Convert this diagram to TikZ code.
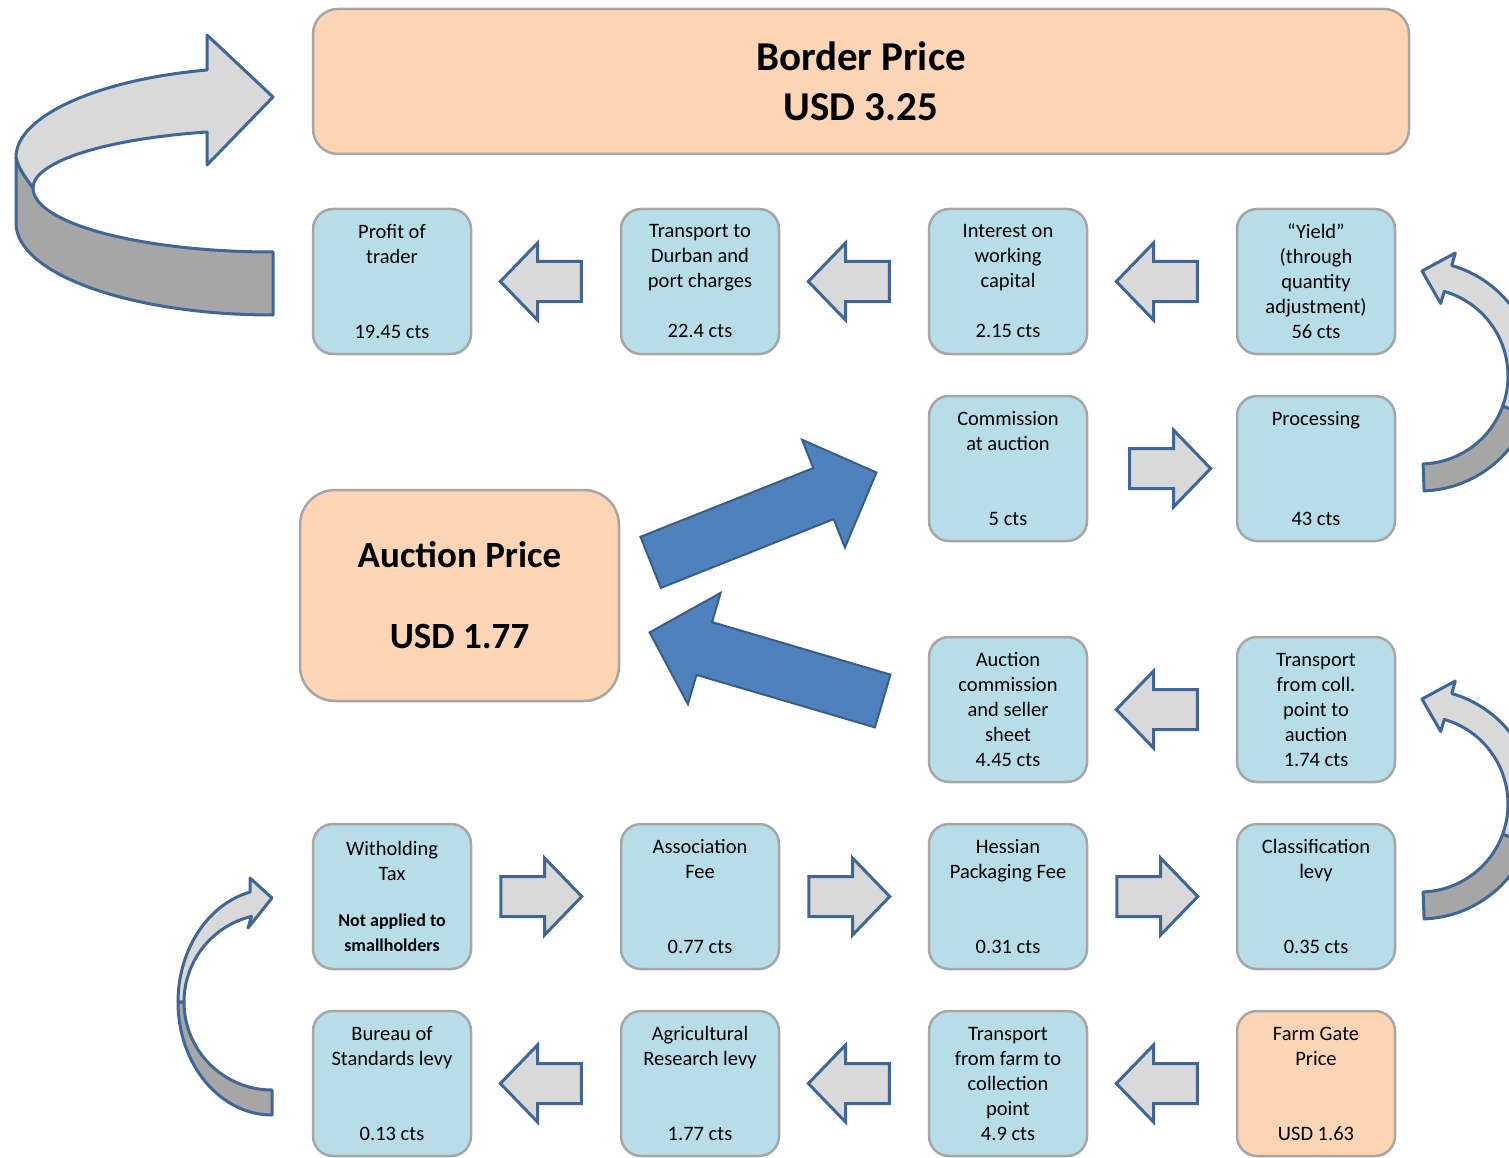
\documentclass[tikz,border=0pt]{standalone}
\usepackage{fontspec}
\setmainfont{Carlito}
\usetikzlibrary{positioning,calc,shapes.arrows}

\definecolor{boxblue}{HTML}{B7DDE8}
\definecolor{peach}{HTML}{FBD5B5}
\definecolor{boxline}{HTML}{A6A6A6}
\definecolor{arrowgray}{HTML}{D9D9D9}
\definecolor{ribbongray}{HTML}{A6A6A6}
\definecolor{edgeblue}{HTML}{3E6797}
\definecolor{bigblue}{HTML}{4F81BD}
\definecolor{bigedge}{HTML}{385D8A}

\tikzset{
	costbox/.style = {draw=boxline, fill=boxblue, line width=2.5pt, rounded corners=20pt, align=center,
		minimum width=158pt, minimum height=145pt, inner sep=0pt, font=\fontsize{20.5pt}{25pt}\selectfont},
	pricebox/.style = {costbox, fill=peach},
	bigprice/.style = {pricebox, font=\bfseries\fontsize{41pt}{50pt}\selectfont},
	flowarrow/.style = {single arrow, draw=edgeblue, fill=arrowgray, line width=3pt, inner xsep=0pt, inner ysep=18.5pt,
		minimum height=81pt, single arrow head extend=18.5pt, single arrow tip angle=92},
	backarrow/.style = {flowarrow, shape border rotate=180, anchor=tip},
	bigarrow/.style = {single arrow, draw=bigedge, fill=bigblue, line width=2pt, inner xsep=0pt, inner ysep=26.5pt,
		minimum height=243pt, single arrow head extend=30.5pt, single arrow tip angle=91},
	ribbonlight/.style = {draw=edgeblue, fill=arrowgray, line width=3pt, line join=round},
	ribbondark/.style = {ribbonlight, fill=ribbongray}
}
\newcommand{\notefont}{\bfseries\fontsize{18pt}{24pt}\selectfont}

\begin{document}
\begin{tikzpicture}[x=1pt, y=1pt]
	\useasboundingbox (0,0) rectangle (1509,-1158);
	\clip (0,0) rectangle (1509,-1158);

	% prices
	\node [bigprice, minimum width=1096pt, rounded corners=25pt] (border) at (861,-81.5) {Border Price\\USD 3.25};
	\node [pricebox, minimum width=319pt, minimum height=211pt, rounded corners=35pt,
		font=\bfseries\fontsize{37pt}{45pt}\selectfont] (auction) at (459.5,-595.5) {Auction Price\\[36pt]USD 1.77};

	% row 1
	\node [costbox] (profit) at (392,-281.5) {Profit of\\trader\\[50pt]19.45 cts};
	\node [costbox, right=147.5pt of profit] (durban) {Transport to\\Durban and\\port charges\\[25pt]22.4 cts};
	\node [costbox, right=147.5pt of durban] (interest) {Interest on\\working\\capital\\[25pt]2.15 cts};
	\node [costbox, right=147.5pt of interest] (yield) {“Yield”\\(through\\quantity\\adjustment)\\56 cts};

	% row 2
	\node [costbox, below=39.5pt of interest] (commission) {Commission\\at auction\\[50pt]5 cts};
	\node [costbox, below=39.5pt of yield] (processing) {Processing\\[75pt]43 cts};

	% row 3
	\node [costbox, below=93.5pt of commission] (auctioncom) {Auction\\commission\\and seller\\sheet\\4.45 cts};
	\node [costbox, below=93.5pt of processing] (collpoint) {Transport\\from coll.\\point to\\auction\\1.74 cts};

	% row 4
	\node [costbox, below=39.5pt of auctioncom] (hessian) {Hessian\\Packaging Fee\\[50pt]0.31 cts};
	\node [costbox, below=39.5pt of collpoint] (classification) {Classification\\levy\\[50pt]0.35 cts};
	\node [costbox, left=147.5pt of hessian] (association) {Association\\Fee\\[50pt]0.77 cts};
	\node [costbox, left=147.5pt of association] (witholding) {Witholding\\Tax\\[21pt]{\notefont Not applied to}\\{\notefont smallholders}};

	% row 5
	\node [costbox, below=39.5pt of witholding] (bureau) {Bureau of\\Standards levy\\[50pt]0.13 cts};
	\node [costbox, below=39.5pt of association] (research) {Agricultural\\Research levy\\[50pt]1.77 cts};
	\node [costbox, below=39.5pt of hessian] (farmtransport) {Transport\\from farm to\\collection\\point\\4.9 cts};
	\node [pricebox, below=39.5pt of classification] (farmgate) {Farm Gate\\Price\\[50pt]USD 1.63};

	% straight arrows
	\node [backarrow] (a1) at ([xshift=26pt]profit.east) {};
	\node [backarrow] (a2) at ([xshift=26pt]durban.east) {};
	\node [backarrow] (a3) at ([xshift=26pt]interest.east) {};
	\node [flowarrow, anchor=tip] (a4) at ([xshift=-23pt]processing.west) {};
	\node [backarrow] (a5) at ([xshift=26pt]auctioncom.east) {};
	\node [flowarrow, anchor=tail] (a6) at ([xshift=27pt]witholding.east) {};
	\node [flowarrow, anchor=tail] (a7) at ([xshift=27pt]association.east) {};
	\node [flowarrow, anchor=tail] (a8) at ([xshift=27pt]hessian.east) {};
	\node [backarrow] (a9) at ([xshift=26pt]bureau.east) {};
	\node [backarrow] (a10) at ([xshift=26pt]research.east) {};
	\node [backarrow] (a11) at ([xshift=26pt]farmtransport.east) {};

	% auction arrows
	\node [bigarrow, rotate=21.7, anchor=tip] (toauction) at ([xshift=-50pt, yshift=-3.5pt]commission.west) {};
	\node [bigarrow, rotate=163.6, anchor=tip] (fromauction) at ([xshift=28pt, yshift=-36.5pt]auction.east) {};

	% ribbon to border price
	\draw [ribbondark] (16,-157) -- (16,-223) .. controls (16,-274) and (131,-315) .. (273,-315) -- (273,-252)
		.. controls (140,-252) and (33,-223) .. (33,-188) .. controls (26,-178) and (18,-168) .. cycle;
	\draw [ribbonlight] (16,-157) .. controls (16,-117.5) and (94,-80) .. (207,-70) -- (207,-35) -- (273,-97)
		-- (207,-165) -- (207,-132) .. controls (104,-139) and (33,-162) .. (33,-188)
		.. controls (26,-178) and (18,-168) .. cycle;

	% rings on the right
	\foreach \dy in {0,-428} {
		\begin{scope}[yshift=\dy pt]
			\draw [ribbondark] (1528.1,-415.3) arc [start angle=-20, end angle=-88, radius=115pt]
				-- (1423.1,-463.9) arc [start angle=-88, end angle=-20, radius=88pt] -- cycle;
			\draw [ribbonlight] (1451.7,-265.5) arc [start angle=74, end angle=-20, radius=115pt]
				-- (1502.7,-406.1) arc [start angle=-20, end angle=74, radius=88pt]
				-- (1440.7,-303.5) -- (1422,-271) -- (1455.3,-253) -- cycle;
		\end{scope}
	}

	% ring to witholding tax
	\draw [ribbondark] (178,-1002) arc [start angle=180, end angle=270, x radius=94pt, y radius=113pt]
		-- (272,-1090) arc [start angle=270, end angle=180, radius=88pt] -- cycle;
	\draw [ribbonlight] (250.1,-892) arc [start angle=103.5, end angle=180, x radius=94pt, y radius=113pt]
		-- (184,-1002) arc [start angle=180, end angle=103.5, radius=88pt]
		-- (248,-928) -- (272,-898) -- (250,-878) -- cycle;
\end{tikzpicture}
\end{document}
